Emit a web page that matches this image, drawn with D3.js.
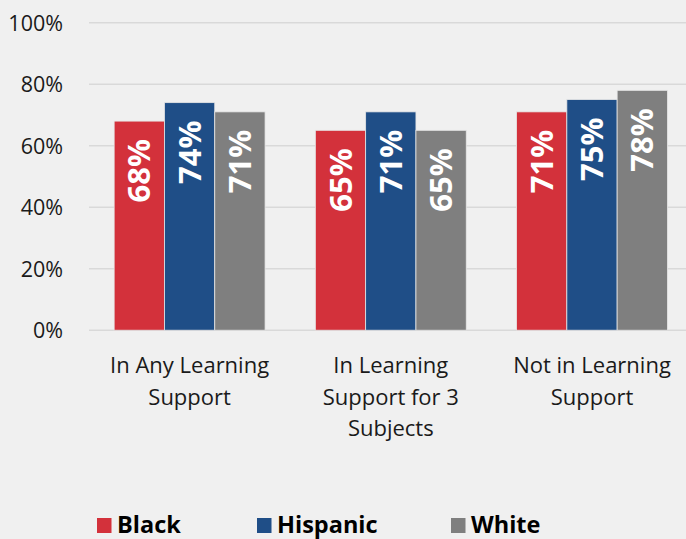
<!DOCTYPE html>
<html>
<head>
<meta charset="utf-8">
<script src="https://cdn.jsdelivr.net/npm/d3@7"></script>
<style>
  html, body { margin: 0; padding: 0; background: #f0f0f0; }
  svg { display: block; }
</style>
</head>
<body>
<div id="chart"></div>
<script>
// Share of students by group, per learning-support status
const categories = [
  ["In Any Learning", "Support"],
  ["In Learning", "Support for 3", "Subjects"],
  ["Not in Learning", "Support"]
];
const series = ["Black", "Hispanic", "White"];
const blackValues = [68, 65, 71];
const hispanicValues = [74, 71, 75];
const whiteValues = [71, 65, 78];
const yTicks = [0, 20, 40, 60, 80, 100];
const colors = ["#d3313b", "#1f4e87", "#7f7f7f"];

const W = 686, H = 539;
const font = "'Open Sans', 'Noto Sans', sans-serif";

const svg = d3.select("#chart").append("svg")
  .attr("width", W).attr("height", H)
  .style("background", "#f0f0f0");

const catKeys = categories.map((c, i) => i);
const valuesBySeries = [blackValues, hispanicValues, whiteValues];

const x0 = d3.scaleBand().domain(catKeys).range([89, 692.6]).padding(0);
const x1 = d3.scaleBand().domain(series).range([0, x0.bandwidth()])
  .paddingInner(0).paddingOuter(0.5);
const y = d3.scaleLinear().domain([0, 100]).range([330.2, 22.7]);

// gridlines
svg.append("g").selectAll("line").data(yTicks).join("line")
  .attr("x1", 89).attr("x2", W)
  .attr("y1", d => y(d)).attr("y2", d => y(d))
  .attr("stroke", "#d9d9d9").attr("stroke-width", 1.6);

// y axis labels
const yAxis = d3.axisLeft(y).tickValues(yTicks).tickSize(0).tickPadding(0)
  .tickFormat(d => d + "%");
svg.append("g").attr("transform", "translate(63,0)").call(yAxis)
  .call(g => g.select(".domain").remove())
  .selectAll("text")
  .attr("font-family", font).attr("font-size", 21.5)
  .attr("fill", "#1a1a1a").attr("dy", "0.35em");

// bars
const rows = [];
catKeys.forEach(ci => series.forEach((s, si) => {
  rows.push({ ci, s, si, v: valuesBySeries[si][ci] });
}));

const groups = svg.append("g");
groups.selectAll("rect").data(rows).join("rect")
  .attr("x", d => x0(d.ci) + x1(d.s))
  .attr("width", x1.bandwidth())
  .attr("y", d => y(d.v))
  .attr("height", d => y(0) - y(d.v))
  .attr("fill", d => colors[d.si])
  .attr("stroke", "#e6e6e6").attr("stroke-width", 0.8);

// value labels, rotated inside bar tops
groups.selectAll("text").data(rows).join("text")
  .attr("transform", d => `translate(${x0(d.ci) + x1(d.s) + x1.bandwidth() / 2},${y(d.v) + 18}) rotate(-90)`)
  .attr("text-anchor", "end")
  .attr("dy", "0.36em")
  .attr("font-family", font).attr("font-weight", 700).attr("font-size", 31)
  .attr("fill", "#ffffff")
  .text(d => d.v + "%");

// category labels
const cat = svg.append("g").selectAll("text").data(catKeys).join("text")
  .attr("text-anchor", "middle")
  .attr("font-family", font).attr("font-size", 22)
  .attr("fill", "#1a1a1a");
cat.selectAll("tspan").data(ci => categories[ci].map(t => ({ t, ci }))).join("tspan")
  .attr("x", d => x0(d.ci) + x0.bandwidth() / 2)
  .attr("y", (d, i) => 373 + i * 31.5)
  .text(d => d.t);

// legend
const legendX = [97, 257, 451];
const lg = svg.append("g").selectAll("g").data(series).join("g")
  .attr("transform", (d, i) => `translate(${legendX[i]},518)`);
lg.append("rect").attr("width", 14.5).attr("height", 15)
  .attr("fill", (d, i) => colors[i]);
lg.append("text").attr("x", 20).attr("y", 15)
  .attr("font-family", font).attr("font-weight", 700).attr("font-size", 23.5)
  .attr("fill", "#000")
  .text(d => d);
</script>
</body>
</html>
